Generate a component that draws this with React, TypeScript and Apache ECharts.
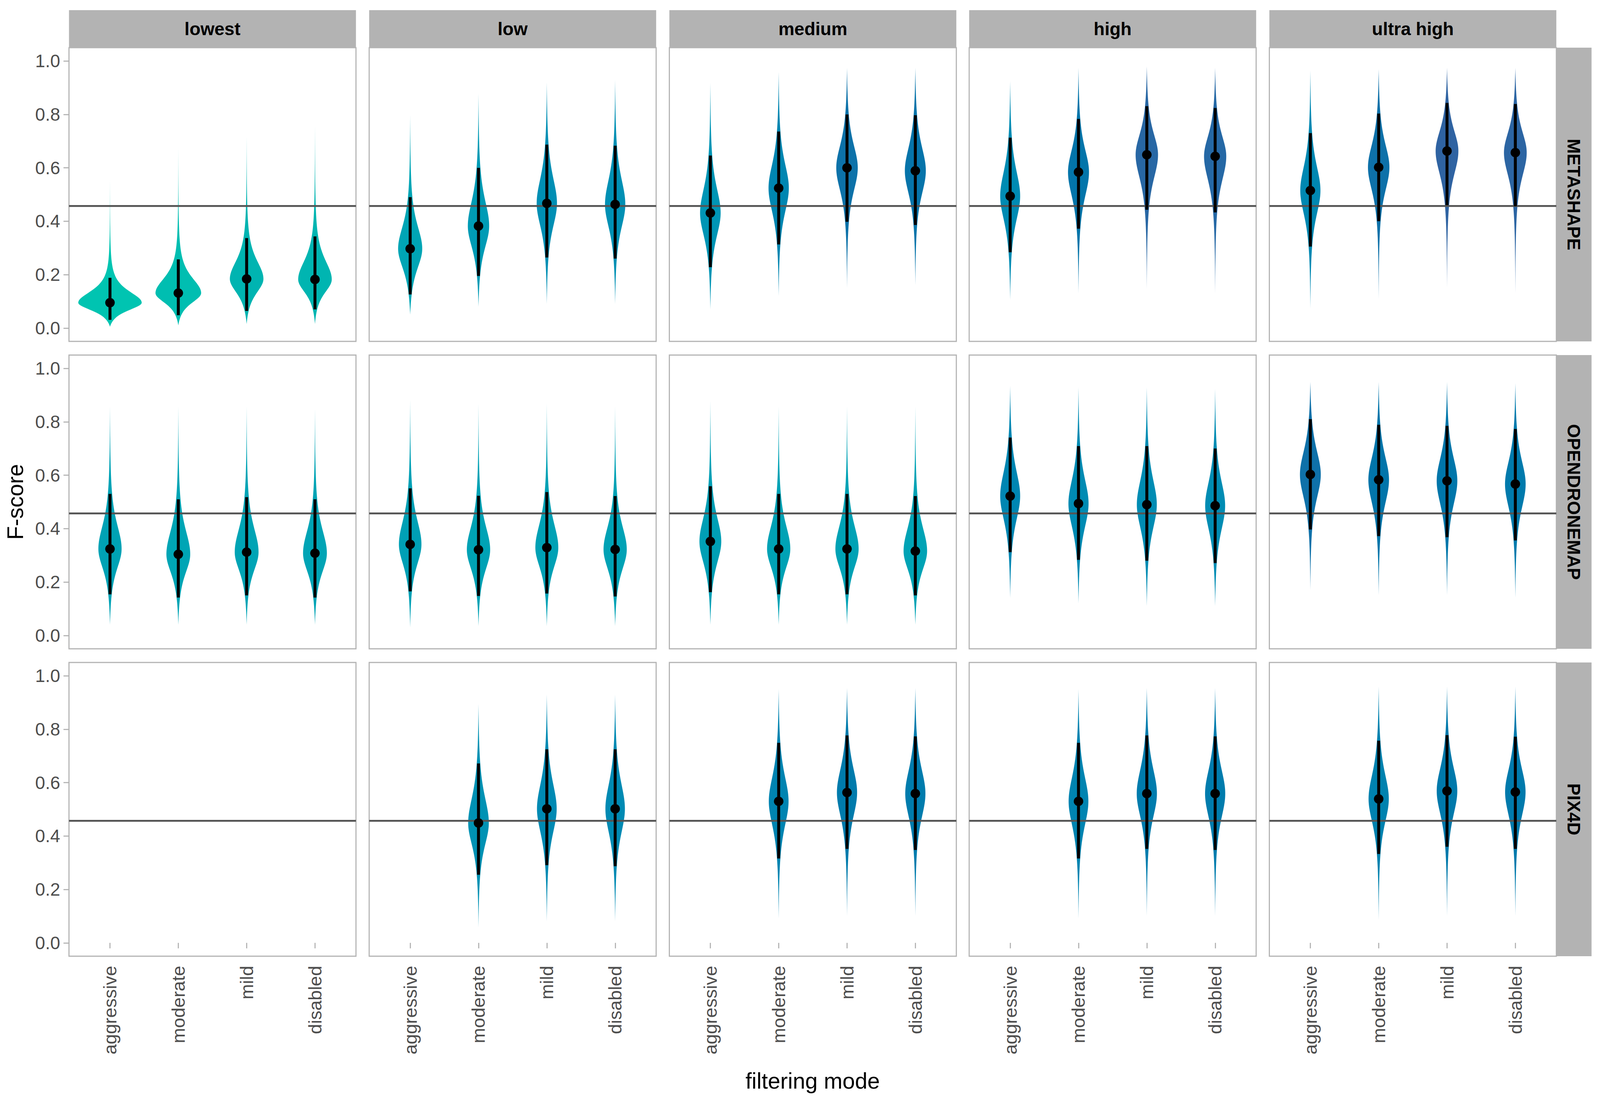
import React, { useEffect, useRef } from 'react';
import * as echarts from 'echarts';

const levels = ['lowest', 'low', 'medium', 'high', 'ultra high'];
const software = ['METASHAPE', 'OPENDRONEMAP', 'PIX4D'];
const modes = ['aggressive', 'moderate', 'mild', 'disabled'];
const yTicks = [0, 0.2, 0.4, 0.6, 0.8, 1.0];
const xTicks = [1, 2, 3, 4];
const threshold = 0.457;

// each array: [level][mode]
const metashapeMedian = [
  [0.095, 0.131, 0.184, 0.182],
  [0.297, 0.382, 0.467, 0.463],
  [0.431, 0.524, 0.600, 0.589],
  [0.494, 0.584, 0.649, 0.643],
  [0.515, 0.602, 0.663, 0.657],
];
const metashapeLower = [
  [0.031, 0.048, 0.064, 0.070],
  [0.126, 0.195, 0.264, 0.260],
  [0.228, 0.313, 0.398, 0.386],
  [0.284, 0.372, 0.443, 0.433],
  [0.305, 0.400, 0.460, 0.456],
];
const metashapeUpper = [
  [0.188, 0.257, 0.337, 0.343],
  [0.490, 0.600, 0.687, 0.683],
  [0.646, 0.736, 0.800, 0.797],
  [0.713, 0.783, 0.831, 0.824],
  [0.730, 0.803, 0.843, 0.839],
];
const metashapeTailLow = [
  [0.005, 0.010, 0.015, 0.015],
  [0.050, 0.080, 0.090, 0.090],
  [0.070, 0.120, 0.150, 0.160],
  [0.105, 0.130, 0.146, 0.130],
  [0.073, 0.108, 0.150, 0.128],
];
const metashapeTailHigh = [
  [0.560, 0.680, 0.720, 0.760],
  [0.800, 0.880, 0.920, 0.930],
  [0.920, 0.960, 0.975, 0.975],
  [0.925, 0.975, 0.980, 0.975],
  [0.965, 0.970, 0.975, 0.975],
];

const odmMedian = [
  [0.324, 0.304, 0.312, 0.308],
  [0.341, 0.321, 0.329, 0.322],
  [0.352, 0.324, 0.324, 0.316],
  [0.522, 0.494, 0.490, 0.486],
  [0.603, 0.583, 0.579, 0.567],
];
const odmLower = [
  [0.154, 0.142, 0.150, 0.142],
  [0.165, 0.148, 0.157, 0.146],
  [0.162, 0.154, 0.154, 0.150],
  [0.312, 0.283, 0.280, 0.271],
  [0.397, 0.372, 0.368, 0.356],
];
const odmUpper = [
  [0.530, 0.510, 0.518, 0.510],
  [0.551, 0.523, 0.537, 0.522],
  [0.559, 0.530, 0.530, 0.522],
  [0.741, 0.709, 0.709, 0.700],
  [0.810, 0.789, 0.785, 0.773],
];
const odmTailLow = [
  [0.040, 0.040, 0.040, 0.040],
  [0.030, 0.035, 0.035, 0.035],
  [0.040, 0.040, 0.040, 0.040],
  [0.140, 0.120, 0.110, 0.110],
  [0.170, 0.150, 0.150, 0.140],
];
const odmTailHigh = [
  [0.860, 0.860, 0.860, 0.850],
  [0.885, 0.870, 0.870, 0.860],
  [0.880, 0.860, 0.860, 0.860],
  [0.935, 0.930, 0.930, 0.925],
  [0.950, 0.950, 0.950, 0.945],
];

const pix4dMedian = [
  [null, null, null, null],
  [null, 0.449, 0.502, 0.502],
  [null, 0.530, 0.563, 0.559],
  [null, 0.530, 0.559, 0.559],
  [null, 0.539, 0.569, 0.565],
];
const pix4dLower = [
  [null, null, null, null],
  [null, 0.255, 0.291, 0.287],
  [null, 0.316, 0.352, 0.348],
  [null, 0.316, 0.352, 0.348],
  [null, 0.333, 0.360, 0.352],
];
const pix4dUpper = [
  [null, null, null, null],
  [null, 0.672, 0.725, 0.725],
  [null, 0.749, 0.777, 0.773],
  [null, 0.749, 0.777, 0.773],
  [null, 0.757, 0.778, 0.772],
];
const pix4dTailLow = [
  [null, null, null, null],
  [null, 0.057, 0.080, 0.080],
  [null, 0.090, 0.100, 0.100],
  [null, 0.090, 0.100, 0.100],
  [null, 0.085, 0.100, 0.100],
];
const pix4dTailHigh = [
  [null, null, null, null],
  [null, 0.895, 0.930, 0.930],
  [null, 0.950, 0.955, 0.955],
  [null, 0.950, 0.955, 0.955],
  [null, 0.960, 0.960, 0.960],
];

const softwareData = [
  [metashapeMedian, metashapeLower, metashapeUpper, metashapeTailLow, metashapeTailHigh],
  [odmMedian, odmLower, odmUpper, odmTailLow, odmTailHigh],
  [pix4dMedian, pix4dLower, pix4dUpper, pix4dTailLow, pix4dTailHigh],
];

// fill colour scale keyed on median F-score
const colorStops: [number, string][] = [
  [0.09, '#00C5B1'],
  [0.18, '#00B5B1'],
  [0.30, '#00A5B5'],
  [0.43, '#0095B5'],
  [0.52, '#0087B2'],
  [0.58, '#0076AA'],
  [0.62, '#1A6DA8'],
  [0.665, '#3063A2'],
];

function hexToRgb(h: string) {
  return [parseInt(h.slice(1, 3), 16), parseInt(h.slice(3, 5), 16), parseInt(h.slice(5, 7), 16)];
}
function fillColor(v: number) {
  if (v <= colorStops[0][0]) return colorStops[0][1];
  for (let i = 1; i < colorStops.length; i++) {
    if (v <= colorStops[i][0]) {
      const [a, ca] = colorStops[i - 1];
      const [b, cb] = colorStops[i];
      const t = (v - a) / (b - a);
      const A = hexToRgb(ca), B = hexToRgb(cb);
      const c = A.map((x, k) => Math.round(x + (B[k] - x) * t));
      return `rgb(${c[0]},${c[1]},${c[2]})`;
    }
  }
  return colorStops[colorStops.length - 1][1];
}

const NU = 2.5;
const K = 0.0552;
const P = 1.15;
function tdens(z: number) {
  return Math.pow(1 + (z * z) / NU, -(NU + 1) / 2);
}
function shape(y: number, med: number, lo: number, hi: number, tLo: number, tHi: number) {
  const below = y < med;
  const s = below ? (med - lo) / 1.96 : (hi - med) / 1.96;
  const tail = below ? tLo : tHi;
  const z = Math.abs(y - med) / s;
  const fT = tdens(Math.abs(tail - med) / s);
  return Math.max(0, (tdens(z) - fT) / (1 - fT));
}

const FONT = '"Liberation Sans", Arial, Helvetica, sans-serif';
// layout in reference pixels (4360 x 2811), scaled to the actual viewport
const REF_W = 4360;
const REF_H = 2811;
const colLefts = [188, 1006, 1824, 2641, 3459];
const rowTops = [122, 909, 1696];
const PW = 782;
const PH = 752;
const STRIP = 96;

export default function App() {
  const ref = useRef<HTMLDivElement>(null);
  useEffect(() => {
    if (!ref.current) return;
    const chart = echarts.init(ref.current, undefined, { renderer: 'svg' });
    const W = chart.getWidth();
    const H = chart.getHeight();
    const sx = W / REF_W;
    const sy = H / REF_H;
    const s = Math.min(sx, sy);
    const X = (v: number) => v * sx;
    const Y = (v: number) => v * sy;

    const grids: any[] = [];
    const xAxes: any[] = [];
    const yAxes: any[] = [];
    const series: any[] = [];
    const graphics: any[] = [];
    let gi = 0;
    for (let r = 0; r < 3; r++) {
      for (let c = 0; c < 5; c++) {
        grids.push({
          left: X(colLefts[c]), top: Y(rowTops[r]), width: X(PW), height: Y(PH),
          show: true, borderColor: '#B3B3B3', borderWidth: 3 * s, backgroundColor: '#FFFFFF',
        });
        xAxes.push({
          type: 'value', gridIndex: gi, min: 0.4, max: 4.6,
          axisLine: { show: false }, splitLine: { show: false },
          axisTick: { show: r === 2, length: 15 * s, customValues: xTicks, lineStyle: { color: '#B3B3B3', width: 3 * s } },
          axisLabel: {
            show: r === 2, customValues: xTicks, rotate: 90, margin: 26 * s,
            formatter: (v: number) => modes[Math.round(v) - 1] ?? '',
            color: '#4D4D4D', fontSize: 50 * s, fontFamily: FONT,
          },
        });
        yAxes.push({
          type: 'value', gridIndex: gi, min: -0.05, max: 1.05,
          axisLine: { show: false }, splitLine: { show: false },
          axisTick: { show: c === 0, length: 15 * s, customValues: yTicks, lineStyle: { color: '#B3B3B3', width: 3 * s } },
          axisLabel: {
            show: c === 0, customValues: yTicks, margin: 24 * s,
            formatter: (v: number) => v.toFixed(1),
            color: '#4D4D4D', fontSize: 49 * s, fontFamily: FONT,
          },
        });
        const [medA, loA, hiA, tlA, thA] = softwareData[r];
        const data: any[] = [];
        for (let m = 0; m < 4; m++) {
          const med = medA[c][m];
          if (med == null) continue;
          data.push([m + 1, loA[c][m], med, hiA[c][m], tlA[c][m], thA[c][m]]);
        }
        series.push({
          type: 'custom', xAxisIndex: gi, yAxisIndex: gi, z: 2, silent: true,
          data,
          renderItem: (params: any, api: any) => {
            const xv = api.value(0), lo = api.value(1), med = api.value(2), hi = api.value(3);
            const tLo = api.value(4), tHi = api.value(5);
            const band = api.size([1, 0])[0];
            const hPeak = K * band * Math.pow(hi - lo, -P);
            const n = 300;
            const ys: number[] = [];
            for (let i = 0; i <= n; i++) ys.push(tLo + ((tHi - tLo) * i) / n);
            ys.push(med);
            ys.sort((a, b) => a - b);
            const right: number[][] = [];
            const left: number[][] = [];
            for (const y of ys) {
              const p = api.coord([xv, y]);
              const w = hPeak * shape(y, med, lo, hi, tLo, tHi);
              right.push([p[0] + w, p[1]]);
              left.push([p[0] - w, p[1]]);
            }
            return {
              type: 'polygon',
              shape: { points: right.concat(left.reverse()) },
              style: { fill: fillColor(med), stroke: 'none' },
            };
          },
        });
        series.push({
          type: 'line', xAxisIndex: gi, yAxisIndex: gi, z: 3, silent: true,
          data: [[0.4, threshold], [4.6, threshold]],
          symbol: 'none', showSymbol: false,
          lineStyle: { color: '#555555', width: 5 * s },
        });
        series.push({
          type: 'custom', xAxisIndex: gi, yAxisIndex: gi, z: 4, silent: true,
          data,
          renderItem: (params: any, api: any) => {
            const xv = api.value(0), lo = api.value(1), med = api.value(2), hi = api.value(3);
            const top = api.coord([xv, hi]);
            const bot = api.coord([xv, lo]);
            const ctr = api.coord([xv, med]);
            return {
              type: 'group',
              children: [
                { type: 'line', shape: { x1: top[0], y1: top[1], x2: bot[0], y2: bot[1] }, style: { stroke: '#000000', lineWidth: 8 * s } },
                { type: 'circle', shape: { cx: ctr[0], cy: ctr[1], r: 13 * s }, style: { fill: '#000000' } },
              ],
            };
          },
        });
        gi++;
      }
    }
    const textStyle = (text: string, size: number, bold: boolean) => ({
      text, fill: '#000000', fontSize: size * s, fontWeight: bold ? 'bold' : 'normal', fontFamily: FONT,
      textAlign: 'center', textVerticalAlign: 'middle', align: 'center', verticalAlign: 'middle',
    });
    // top strips
    for (let c = 0; c < 5; c++) {
      graphics.push({
        type: 'rect', shape: { x: X(colLefts[c]), y: Y(rowTops[0] - STRIP), width: X(PW), height: Y(STRIP) },
        style: { fill: '#B3B3B3' }, silent: true,
      });
      graphics.push({
        type: 'text', x: X(colLefts[c] + PW / 2), y: Y(rowTops[0] - STRIP / 2), silent: true,
        style: textStyle(levels[c], 49, true),
      });
    }
    // right strips
    const stripX = colLefts[4] + PW;
    for (let r = 0; r < 3; r++) {
      graphics.push({
        type: 'rect', shape: { x: X(stripX), y: Y(rowTops[r]), width: X(STRIP), height: Y(PH) },
        style: { fill: '#B3B3B3' }, silent: true,
      });
      graphics.push({
        type: 'text', x: X(stripX + STRIP / 2), y: Y(rowTops[r] + PH / 2), rotation: -Math.PI / 2, silent: true,
        style: textStyle(software[r], 49, true),
      });
    }
    // axis titles
    graphics.push({
      type: 'text', x: X(42), y: Y((rowTops[0] + rowTops[2] + PH) / 2), rotation: Math.PI / 2, silent: true,
      style: textStyle('F-score', 61, false),
    });
    graphics.push({
      type: 'text', x: X((colLefts[0] + colLefts[4] + PW) / 2), y: Y(2767), silent: true,
      style: textStyle('filtering mode', 61, false),
    });

    chart.setOption({
      animation: false,
      backgroundColor: '#FFFFFF',
      grid: grids,
      xAxis: xAxes,
      yAxis: yAxes,
      series,
      graphic: { elements: graphics },
    });
    return () => chart.dispose();
  }, []);
  return <div ref={ref} style={{ position: 'fixed', left: 0, top: 0, width: '100vw', height: '100vh' }} />;
}
